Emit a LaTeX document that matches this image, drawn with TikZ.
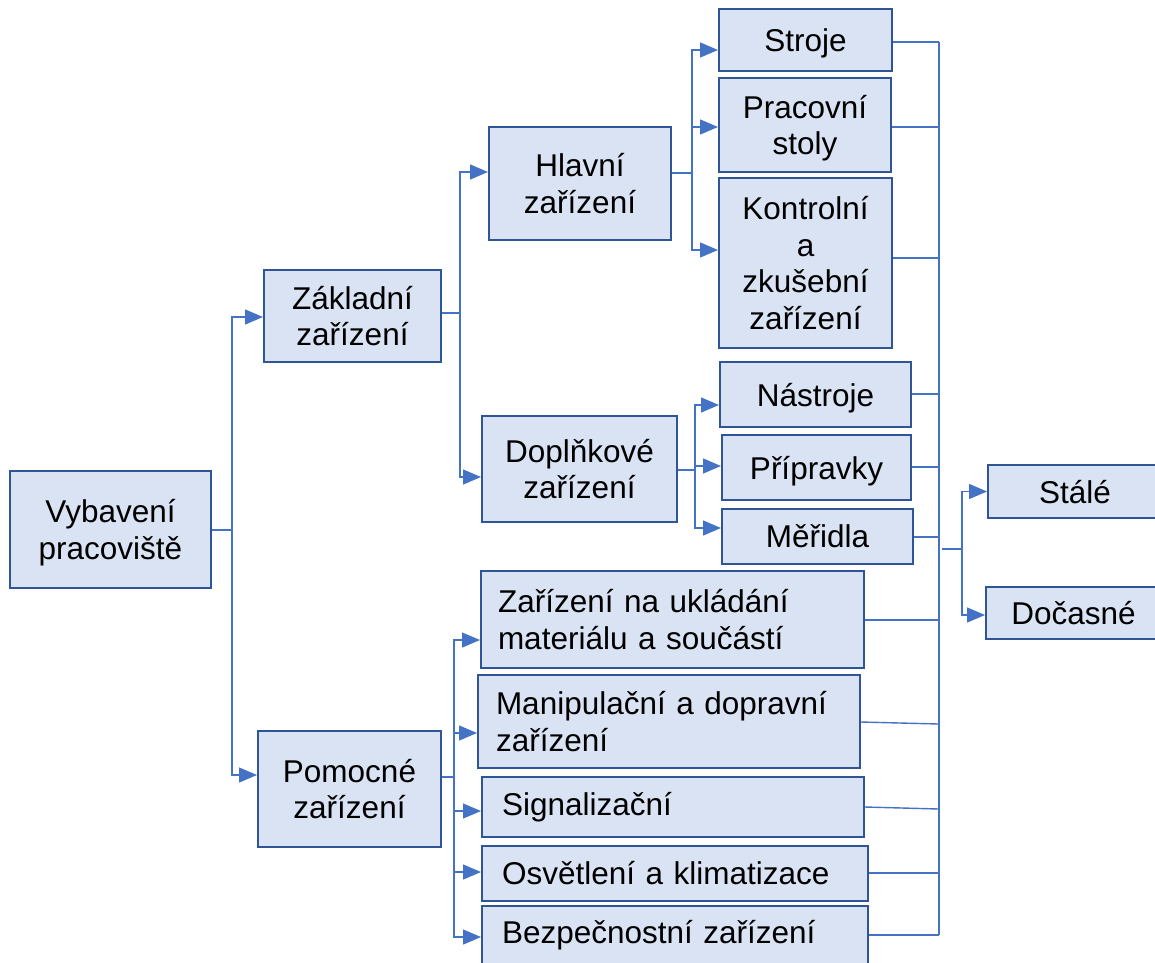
\documentclass[tikz,border=0pt]{standalone}
\usepackage{fontspec}
\setmainfont{Liberation Sans}
\usetikzlibrary{arrows.meta}
\definecolor{conn}{HTML}{4472C4}
\definecolor{boxfill}{HTML}{DAE3F3}
\definecolor{boxline}{HTML}{2F5597}
\begin{document}
\begin{tikzpicture}[x=1pt,y=-1pt,
  basebox/.style={draw=boxline, fill=boxfill, line width=2pt, inner sep=0pt,
    font=\fontsize{31.5}{36.5}\selectfont},
  box/.style={basebox, align=center, text depth=0pt},
  lbox/.style={basebox, align=left},
  wire/.style={draw=conn, line width=1.4pt},
  arr/.style={wire, -{Triangle[length=18pt,width=15pt]}},
]
\useasboundingbox (0,0) rectangle (1155,962);

% boxes
\node[box, minimum width=201pt, minimum height=117pt] (vyb) at (110.5,529.5) {Vybavení\\pracoviště};
\node[box, minimum width=177pt, minimum height=92pt] (zak) at (352.5,316) {Základní\\zařízení};
\node[box, minimum width=183pt, minimum height=116pt] (pom) at (349.5,789) {Pomocné\\zařízení};
\node[box, minimum width=182pt, minimum height=113pt] (hla) at (580,183.5) {Hlavní\\zařízení};
\node[box, minimum width=195pt, minimum height=106pt] (dop) at (579.5,469) {Doplňkové\\zařízení};
\node[box, minimum width=173pt, minimum height=62pt] (str) at (805.5,40) {Stroje};
\node[box, minimum width=172pt, minimum height=94pt] (pra) at (805,125) {Pracovní\\stoly};
\node[box, minimum width=173pt, minimum height=170pt] (kon) at (805.5,263) {Kontrolní\\a\\zkušební\\zařízení};
\node[box, minimum width=191pt, minimum height=65pt] (nas) at (815.5,394.5) {Nástroje};
\node[box, minimum width=189pt, minimum height=65pt] (pri) at (816.5,467.5) {Přípravky};
\node[box, minimum width=191pt, minimum height=55pt] (mer) at (817.5,536.5) {Měřidla};
\node[lbox, minimum width=383pt, minimum height=97pt, text width=349pt] (ula) at (672.5,619.5) {Zařízení na ukládání\\materiálu a součástí};
\node[lbox, minimum width=382pt, minimum height=93pt, text width=346pt] (man) at (669,721.5) {Manipulační a dopravní\\zařízení};
\node[lbox, minimum width=382pt, minimum height=60pt, text width=342pt] (sig) at (673,807) {Signalizační};
\node[lbox, minimum width=386pt, minimum height=55pt, text width=346pt] (osv) at (675,873.5) {Osvětlení a klimatizace};
\node[lbox, minimum width=386pt, minimum height=59pt, text width=346pt] (bez) at (675,935.5) {Bezpečnostní zařízení};
\node[box, minimum width=174pt, minimum height=53pt] (sta) at (1075,491.5) {Stálé};
\node[box, minimum width=175pt, minimum height=52pt] (doc) at (1073.5,613) {Dočasné};

% level 1
\coordinate (b1) at (232,530);
\draw[wire] (vyb.east |- b1) -- (b1);
\draw[arr] (b1) |- (zak.west |- 0,317);
\draw[arr] (b1) |- (pom.west |- 0,775);

% level 2 (Základní)
\coordinate (b2) at (460,313);
\draw[wire] (zak.east |- b2) -- (b2);
\draw[arr] (b2) |- (hla.west |- 0,172);
\draw[arr] (b2) |- (dop.west |- 0,477);

% Hlavní
\coordinate (b3) at (692,173);
\draw[wire] (hla.east |- b3) -- (b3);
\draw[arr] (b3) |- (str.west |- 0,50);
\draw[arr] (b3) |- (pra.west |- 0,127);
\draw[arr] (b3) |- (kon.west |- 0,250);

% Doplňkové
\coordinate (b4) at (695,470);
\draw[wire] (dop.east |- b4) -- (b4);
\draw[arr] (b4) |- (nas.west |- 0,405);
\draw[arr] (b4) |- (pri.west |- 0,466);
\draw[arr] (b4) |- (mer.west |- 0,528);

% Pomocné
\coordinate (b5) at (454,777);
\draw[wire] (pom.east |- b5) -- (b5);
\draw[arr] (b5) |- (ula.west |- 0,640);
\draw[arr] (b5) |- (man.west |- 0,733);
\draw[arr] (b5) |- (sig.west |- 0,811);
\draw[arr] (b5) |- (osv.west |- 0,872);
\draw[arr] (b5) |- (bez.west |- 0,937);

% right collector
\coordinate (r1) at (939,42);
\coordinate (r2) at (939,127);
\coordinate (r3) at (939,258);
\coordinate (r4) at (939,394);
\coordinate (r5) at (939,467);
\coordinate (r6) at (939,537);
\coordinate (r7) at (939,620);
\coordinate (r8) at (939,724);
\coordinate (r9) at (939,809);
\coordinate (r10) at (939,873);
\coordinate (r11) at (939,935);
\draw[wire] (str.east |- r1) -- (r1);
\draw[wire] (pra.east |- r2) -- (r2);
\draw[wire] (kon.east |- r3) -- (r3);
\draw[wire] (nas.east |- r4) -- (r4);
\draw[wire] (pri.east |- r5) -- (r5);
\draw[wire] (mer.east |- r6) -- (r6);
\draw[wire] (ula.east |- r7) -- (r7);
\draw[wire] (man.east |- 0,722) -- (r8);
\draw[wire] (sig.east |- 0,807) -- (r9);
\draw[wire] (osv.east |- r10) -- (r10);
\draw[wire] (bez.east |- r11) -- (r11);
\draw[wire] (r1) -- (r11);

% to Stálé / Dočasné
\coordinate (s0) at (942,549);
\coordinate (s1) at (962,549);
\draw[wire] (s0) -- (s1);
\draw[arr] (s1) |- (sta.west);
\draw[arr] (s1) |- (doc.west |- 0,615);
\end{tikzpicture}
\end{document}
